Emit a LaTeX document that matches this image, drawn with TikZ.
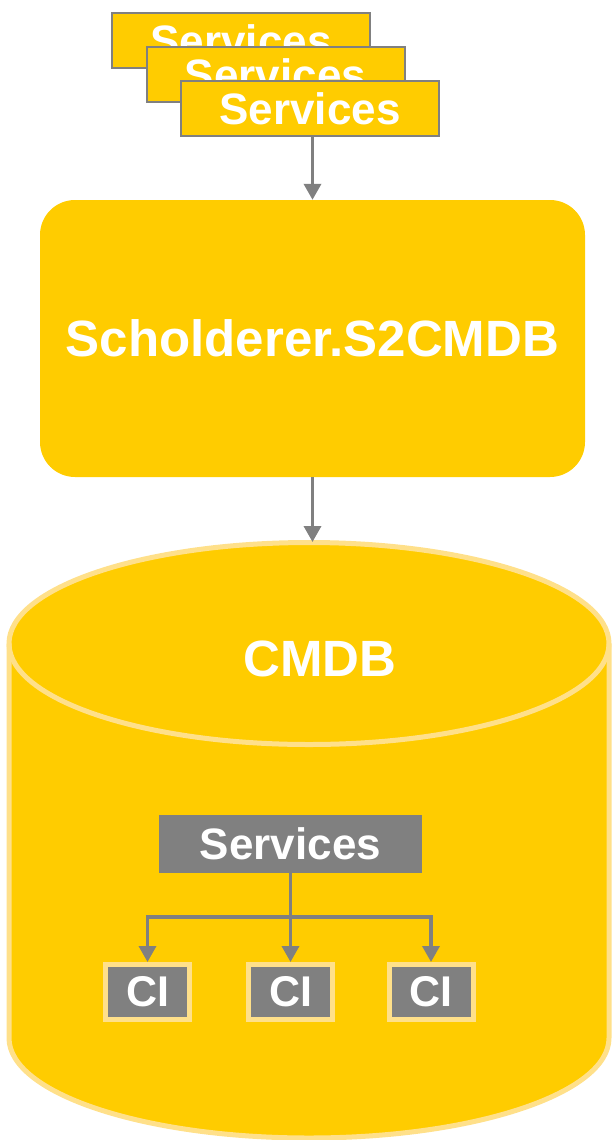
\documentclass[tikz,border=0pt]{standalone}
\usepackage{fontspec}
\setmainfont{Liberation Sans}
\usetikzlibrary{arrows.meta,calc}
\definecolor{sy}{HTML}{FFCC00}
\definecolor{sg}{HTML}{808080}
\definecolor{sl}{HTML}{FFE08A}
\tikzset{
  svcbox/.style={draw=sg, line width=2pt, fill=sy, minimum width=258pt, minimum height=55pt, inner sep=0pt,
    text=white, font=\bfseries\fontsize{44}{48}\selectfont},
  mainbox/.style={fill=sy, rounded corners=35pt, minimum width=545pt, minimum height=277pt, inner sep=0pt,
    text=white, font=\bfseries\fontsize{51}{56}\selectfont},
  graybox/.style={fill=sg, minimum width=263pt, minimum height=58pt, inner sep=0pt,
    text=white, font=\bfseries\fontsize{44}{48}\selectfont},
  cibox/.style={draw=sl, line width=5pt, fill=sg, minimum width=84pt, minimum height=55pt, inner sep=0pt,
    text=white, font=\bfseries\fontsize{43}{48}\selectfont},
  conn/.style={draw=sg, line width=3.5pt, -{Triangle[width=17pt,length=16pt]}},
  plainline/.style={draw=sg, line width=3.5pt},
}
\begin{document}
\begin{tikzpicture}[x=1pt,y=-1pt]
\useasboundingbox (0,0) rectangle (613,1140);
% stacked services
\node[svcbox] (s1) at (241,40.5) {Services};
\node[svcbox] (s2) at (275.5,74.5) {Services};
\node[svcbox] (s3) at (310,108.5) {Services};
% main box
\node[mainbox] (main) at (312.5,338.5) {Scholderer.S2CMDB};
% cylinder
\filldraw[fill=sy, draw=sl, line width=5pt]
  (9,643.5) -- (9,1038) arc[start angle=180, end angle=0, x radius=300, y radius=100]
  -- (609,643.5) arc[start angle=0, end angle=-180, x radius=300, y radius=101] -- cycle;
\draw[draw=sl, line width=5pt] (9,643.5) arc[start angle=180, end angle=0, x radius=300, y radius=101];
\coordinate (cyltop) at (312.5,542);
\node[text=white, font=\bfseries\fontsize{51}{56}\selectfont, inner sep=0pt] (cmdb) at (320,659) {CMDB};
% inner services
\node[graybox] (gs) at (290.5,844) {Services};
\node[cibox] (ci1) at (147.5,992) {CI};
\node[cibox] (ci2) at (290.5,992) {CI};
\node[cibox] (ci3) at (431,992) {CI};
% connectors
\draw[conn] (s3.south -| main.north) -- (main.north);
\draw[conn] (main.south) -- (cyltop);
\coordinate (bj) at ($(gs.south)+(0,44)$);
\draw[plainline] (gs.south) -- (bj);
\draw[conn] (bj) -| (ci1.north);
\draw[conn] (bj) -- (ci2.north);
\draw[conn] (bj) -| (ci3.north);
\end{tikzpicture}
\end{document}
